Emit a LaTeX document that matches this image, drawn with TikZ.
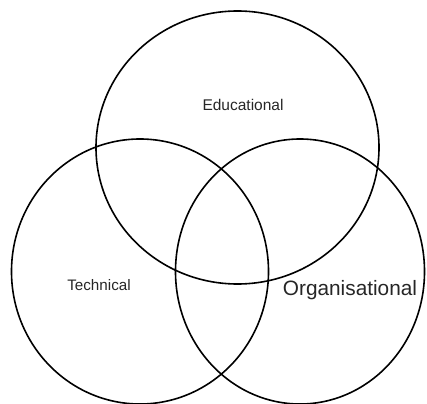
\documentclass[tikz,border=0pt]{standalone}
\usepackage{fontspec}
\setmainfont{Liberation Sans}
\usetikzlibrary{shapes.geometric}
\begin{document}
\begin{tikzpicture}[x=1pt,y=-1pt,
  setcircle/.style={draw=black, line width=1.6pt, ellipse, inner sep=0pt, minimum width=#1},
  lbl/.style={text=black!85, anchor=base, inner sep=0pt}]
\useasboundingbox (0,0) rectangle (427,403);
\node[setcircle, minimum width=283pt, minimum height=273pt] (edu) at (237.5,147.5) {};
\node[setcircle, minimum width=257pt, minimum height=265pt] (tech) at (140,271.5) {};
\node[setcircle, minimum width=249pt, minimum height=265pt] (org) at (300,271.5) {};
\node[lbl, font=\fontsize{15.5}{18}\selectfont] (edut) at (243,110.5) {Educational};
\node[lbl, font=\fontsize{15.2}{18}\selectfont] (techt) at (99,290) {Technical};
\node[lbl, font=\fontsize{20.8}{24}\selectfont] (orgt) at (350,295) {Organisational};
\end{tikzpicture}
\end{document}
